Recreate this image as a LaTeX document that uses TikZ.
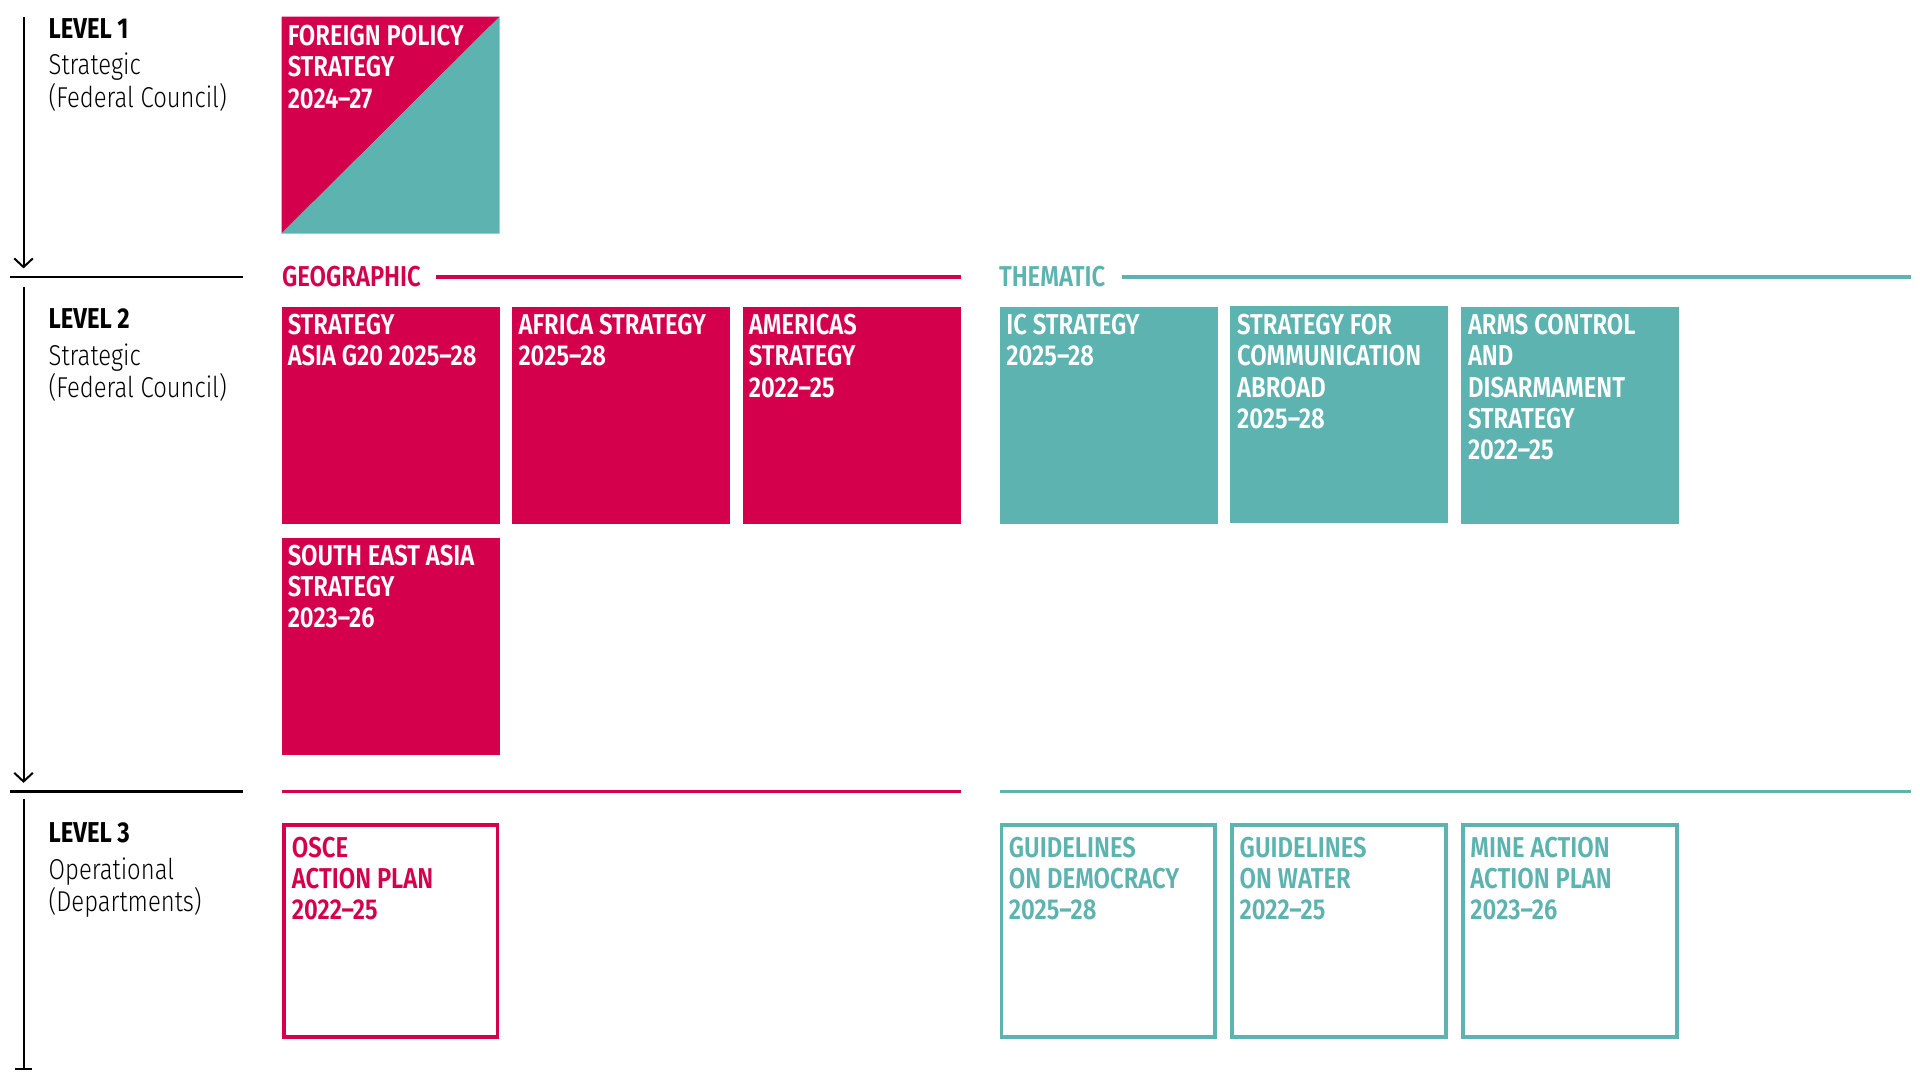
\documentclass[tikz,border=0pt]{standalone}
\usepackage{fontspec}
\setmainfont{Fira Sans}[FakeStretch=0.83]
\newfontfamily\condb{Fira Sans}[FakeStretch=0.83]
\IfFontExistsTF{Fira Sans Light}{\newfontfamily\condl{Fira Sans Light}[FakeStretch=0.83]}{\newfontfamily\condl{Fira Sans}[FakeStretch=0.83]}
\IfFontExistsTF{Fira Sans SemiBold}{\newfontfamily\condsb{Fira Sans SemiBold}[FakeStretch=0.83]}{\newfontfamily\condsb{Fira Sans Bold}[FakeStretch=0.83]}
\usetikzlibrary{arrows.meta}
\definecolor{geo}{HTML}{D5004C}
\definecolor{thm}{HTML}{5CB3B0}
\begin{document}
\begin{tikzpicture}[x=1pt,y=-1pt,
  fillbox/.style={anchor=north west, minimum width=176pt, minimum height=175pt, inner sep=0pt, outer sep=0pt, draw=none},
  outbox/.style={anchor=north west, minimum width=172.5pt, minimum height=171pt, inner sep=0pt, outer sep=0pt, line width=3pt, fill=white},
  boxtxt/.style={anchor=north west, inner sep=0pt, outer sep=0pt, align=left, font=\condsb\fontsize{23.2}{25.2}\selectfont},
  lvl/.style={anchor=base west, inner sep=0pt, outer sep=0pt, font=\condb\bfseries\fontsize{23.2}{25.2}\selectfont},
  lvlsub/.style={anchor=base west, inner sep=0pt, outer sep=0pt, font=\condl\fontsize{23.2}{25.2}\selectfont},
  grp/.style={anchor=base west, inner sep=0pt, outer sep=0pt, font=\condsb\fontsize{23.2}{25.2}\selectfont},
  blk/.style={line width=2pt, black},
  vline/.style={line width=1.6pt, black},
  grpline/.style={line width=2.6pt}
]
\useasboundingbox (0,0) rectangle (1550,871.875);

% ---------- left level labels ----------
\node[lvl] (l1) at (39.3,31) {LEVEL 1};
\node[lvlsub] (l1a) at (39.3,60.5) {Strategic};
\node[lvlsub] (l1b) at (39.3,86.4) {(Federal Council)};
\node[lvl] (l2) at (39.3,265.3) {LEVEL 2};
\node[lvlsub] (l2a) at (39.3,294.8) {Strategic};
\node[lvlsub] (l2b) at (39.3,320.7) {(Federal Council)};
\node[lvl] (l3) at (39.3,680.5) {LEVEL 3};
\node[lvlsub] (l3a) at (39.3,710) {Operational};
\node[lvlsub] (l3b) at (39.3,735.5) {(Departments)};

% ---------- left arrows and separators ----------
\coordinate (a1s) at (19,14);
\coordinate (a1e) at (19,216.7);
\coordinate (a2s) at (19,231.6);
\coordinate (a2e) at (19,632);
\coordinate (a3s) at (19,645);
\coordinate (a3e) at (19,864);
\draw[vline, -{Straight Barb[length=7pt,width=15pt]}] (a1s) -- (a1e);
\draw[vline, -{Straight Barb[length=7pt,width=15pt]}] (a2s) -- (a2e);
\draw[vline, -{Bar[width=13pt]}] (a3s) -- (a3e);
\coordinate (h1a) at (8.3,223.6);
\coordinate (h1b) at (196,223.6);
\coordinate (h2a) at (8.3,639);
\coordinate (h2b) at (196,639);
\draw[blk] (h1a) -- (h1b);
\draw[blk] (h2a) -- (h2b);

% ---------- group headers ----------
\node[grp, text=geo] (geolbl) at (227.7,231.6) {GEOGRAPHIC};
\node[grp, text=thm] (thmlbl) at (806.5,231.6) {THEMATIC};
\coordinate (g1a) at (352.3,223.6);
\coordinate (g1b) at (775.6,223.6);
\coordinate (t1a) at (905.5,223.6);
\coordinate (t1b) at (1543,223.6);
\draw[grpline, geo] (g1a) -- (g1b);
\draw[grpline, thm] (t1a) -- (t1b);
\coordinate (g2a) at (227.3,639);
\coordinate (g2b) at (775.6,639);
\coordinate (t2a) at (807,639);
\coordinate (t2b) at (1542.5,639);
\draw[grpline, geo] (g2a) -- (g2b);
\draw[grpline, thm] (t2a) -- (t2b);

% ---------- level 1 ----------
\node[fillbox] (fp) at (227.3,13.5) {};
\fill[geo] (fp.south west) -- (fp.north west) -- (fp.north east) -- cycle;
\fill[thm] (fp.south west) -- (fp.north east) -- (fp.south east) -- cycle;
\node[boxtxt, text=white] (fpt) at ([xshift=5pt,yshift=-7pt]fp.north west) {FOREIGN POLICY\\STRATEGY\\2024–27};

% ---------- level 2 geographic ----------
\node[fillbox, fill=geo] (asia) at (227.3,247.8) {};
\node[fillbox, fill=geo] (afr) at (413.6,247.8) {};
\node[fillbox, fill=geo] (ame) at (599.6,247.8) {};
\node[fillbox, fill=geo] (sea) at (227.3,434.1) {};
\node[boxtxt, text=white] (asiat) at ([xshift=5pt,yshift=-6pt]asia.north west) {STRATEGY\\ASIA G20 2025–28};
\node[boxtxt, text=white] (afrt) at ([xshift=5pt,yshift=-6pt]afr.north west) {AFRICA STRATEGY\\2025–28};
\node[boxtxt, text=white] (amet) at ([xshift=5pt,yshift=-6pt]ame.north west) {AMERICAS\\STRATEGY\\2022–25};
\node[boxtxt, text=white] (seat) at ([xshift=5pt,yshift=-6pt]sea.north west) {SOUTH EAST ASIA\\STRATEGY\\2023–26};

% ---------- level 2 thematic ----------
\node[fillbox, fill=thm] (ic) at (807,247.8) {};
\node[fillbox, fill=thm] (com) at (993.3,247.3) {};
\node[fillbox, fill=thm] (arm) at (1179.6,247.8) {};
\node[boxtxt, text=white] (ict) at ([xshift=5.5pt,yshift=-6pt]ic.north west) {IC STRATEGY\\2025–28};
\node[boxtxt, text=white] (comt) at ([xshift=5.5pt,yshift=-6.5pt]com.north west) {STRATEGY FOR\\COMMUNICATION\\ABROAD\\2025–28};
\node[boxtxt, text=white] (armt) at ([xshift=5.5pt,yshift=-6pt]arm.north west) {ARMS CONTROL\\AND\\DISARMAMENT\\STRATEGY\\2022–25};

% ---------- level 3 ----------
\node[outbox, draw=geo] (osce) at (229.2,666) {};
\node[outbox, draw=thm] (dem) at (808.5,666) {};
\node[outbox, draw=thm] (wat) at (994.8,666) {};
\node[outbox, draw=thm] (mine) at (1181.1,666) {};
\node[boxtxt, text=geo] (osct) at ([xshift=6.5pt,yshift=-9.5pt]osce.north west) {OSCE\\ACTION PLAN\\2022–25};
\node[boxtxt, text=thm] (demt) at ([xshift=6pt,yshift=-9.5pt]dem.north west) {GUIDELINES\\ON DEMOCRACY\\2025–28};
\node[boxtxt, text=thm] (watt) at ([xshift=6pt,yshift=-9.5pt]wat.north west) {GUIDELINES\\ON WATER\\2022–25};
\node[boxtxt, text=thm] (minet) at ([xshift=6pt,yshift=-9.5pt]mine.north west) {MINE ACTION\\ACTION PLAN\\2023–26};
\end{tikzpicture}
\end{document}
